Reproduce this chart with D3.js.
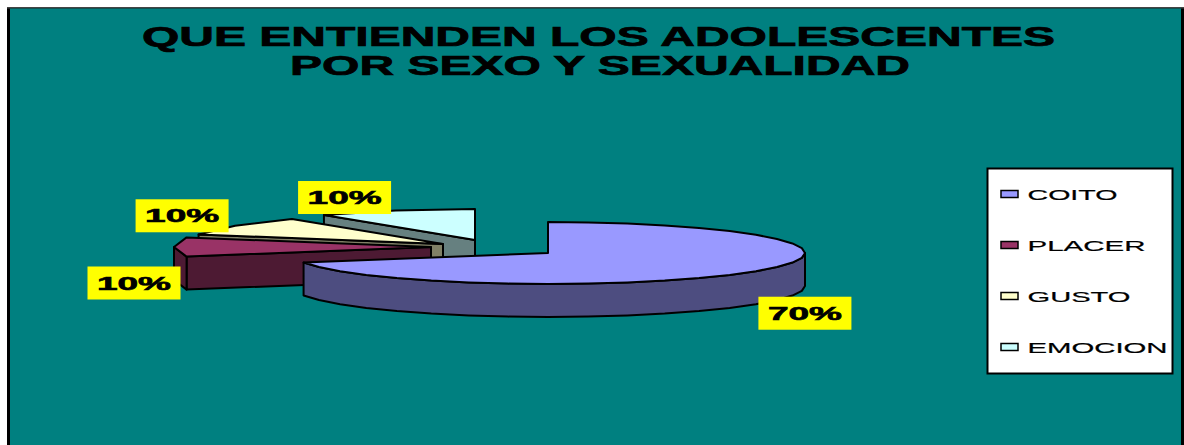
<!DOCTYPE html>
<html><head><meta charset="utf-8">
<script src="https://cdn.jsdelivr.net/npm/d3@7/dist/d3.min.js"></script>
<style>html,body{margin:0;padding:0;background:#fff}svg{display:block}text{font-family:"Liberation Sans",Arial,sans-serif}</style>
</head><body><div id="chart"></div>
<script>
const titleLines = ["QUE ENTIENDEN LOS ADOLESCENTES", "POR SEXO Y SEXUALIDAD"];
const categories = ["COITO", "PLACER", "GUSTO", "EMOCION"];
const values = [70, 10, 10, 10];
const topColors = ["#9999FF", "#993366", "#FFFFCC", "#CCFFFF"];
const wallColors = ["#4D4D80", "#4D1A33", "#808066", "#668080"];

// layout
const W = 1184, H = 445;
const centre = [548, 253], rx = 257, ry = 31, depth = 33;
const explode = [[0, 0], [-117, -6], [-105, -9], [-73, -13]];
const labelOffset = [[49, 42], [-40, 36], [-53, -10], [-51, -13]];
const arcStep = [9, 18, 18, 18].map(d => d * Math.PI / 180);
const titleBoxes = [[142, 913, 46], [290, 620, 75]];
const legendWidths = [90, 118, 103, 140];

const svg = d3.select("#chart").append("svg").attr("width", W).attr("height", H);
svg.append("rect").attr("x", 0).attr("y", 0).attr("width", W).attr("height", H).attr("fill", "#fff");
svg.append("rect").attr("x", 7).attr("y", 7).attr("width", W - 7).attr("height", H - 7).attr("fill", "#000");
svg.append("rect").attr("x", 7).attr("y", 7).attr("width", W - 7).attr("height", 1.5).attr("fill", "#444");
svg.append("rect").attr("x", 10).attr("y", 8.5).attr("width", W - 13).attr("height", H - 8.5).attr("fill", "#008080");

titleLines.forEach((t, i) => {
  svg.append("text").attr("x", titleBoxes[i][0]).attr("y", titleBoxes[i][2])
    .attr("textLength", titleBoxes[i][1]).attr("lengthAdjust", "spacingAndGlyphs")
    .attr("font-size", 28).attr("font-weight", "bold").attr("fill", "#000")
    .attr("stroke", "#000").attr("stroke-width", 0.7).text(t);
});

const pie = d3.pie().sort(null).value(d => d);
const arcs = pie(values);
const xs = d3.scaleLinear().domain([-1, 1]).range([-rx, rx]);
const ys = d3.scaleLinear().domain([-1, 1]).range([ry, -ry]);
const line = d3.line().curve(d3.curveLinear);

function rim(a, i, dy = 0) {
  return [centre[0] + explode[i][0] + xs(Math.sin(a)), centre[1] + explode[i][1] + ys(Math.cos(a)) + dy];
}
function apex(i, dy = 0) { return [centre[0] + explode[i][0], centre[1] + explode[i][1] + dy]; }
function arcPts(a0, a1, i, dy = 0) {
  const n = Math.max(1, Math.round((a1 - a0) / arcStep[i]));
  return d3.range(n + 1).map(k => rim(a0 + (a1 - a0) * k / n, i, dy));
}

const g = svg.append("g").attr("stroke", "#000").attr("stroke-width", 2).attr("stroke-linejoin", "round");
[...arcs.keys()].reverse().forEach(i => {
  const d = arcs[i];
  // cut face at the start of the slice
  if (Math.sin(d.startAngle) < -1e-6) {
    g.append("path").attr("fill", wallColors[i]).attr("d", line([
      apex(i), rim(d.startAngle, i), rim(d.startAngle, i, depth), apex(i, depth)]) + "Z");
  }
  // front facing outer wall
  const a0 = Math.max(d.startAngle, Math.PI / 2), a1 = Math.min(d.endAngle, 3 * Math.PI / 2);
  if (a1 > a0) {
    g.append("path").attr("fill", wallColors[i]).attr("d", line([
      ...arcPts(a0, a1, i), ...arcPts(a0, a1, i, depth).reverse()]) + "Z");
  }
  // top face
  g.append("path").attr("fill", topColors[i]).attr("d", line([
    apex(i), ...arcPts(d.startAngle, d.endAngle, i)]) + "Z");
});

// data labels
arcs.forEach((d, i) => {
  const [px, py] = rim((d.startAngle + d.endAngle) / 2, i);
  const cx = px + labelOffset[i][0], cy = py + labelOffset[i][1];
  svg.append("rect").attr("x", cx - 46.5).attr("y", cy - 16.5).attr("width", 93).attr("height", 33).attr("fill", "#FFFF00");
  svg.append("text").attr("x", cx - 37).attr("y", cy + 6.5)
    .attr("textLength", 74).attr("lengthAdjust", "spacingAndGlyphs")
    .attr("font-size", 18).attr("font-weight", "bold").attr("fill", "#000")
    .attr("stroke", "#000").attr("stroke-width", 0.6)
    .text(d3.format(".0%")(d.data / d3.sum(values)));
});

// legend
svg.append("rect").attr("x", 987.5).attr("y", 168.5).attr("width", 185).attr("height", 205)
  .attr("fill", "#fff").attr("stroke", "#000").attr("stroke-width", 2);
const ly = d3.scalePoint().domain(categories).range([194, 347]);
categories.forEach((c, i) => {
  svg.append("rect").attr("x", 1001).attr("y", ly(c) - 3.5).attr("width", 17).attr("height", 7)
    .attr("fill", topColors[i]).attr("stroke", "#000").attr("stroke-width", 1.5);
  svg.append("text").attr("x", 1027.5).attr("y", ly(c) + 5.5)
    .attr("textLength", legendWidths[i]).attr("lengthAdjust", "spacingAndGlyphs")
    .attr("font-size", 15.5).attr("fill", "#000")
    .attr("stroke", "#000").attr("stroke-width", 0.2).text(c);
});
</script></body></html>
